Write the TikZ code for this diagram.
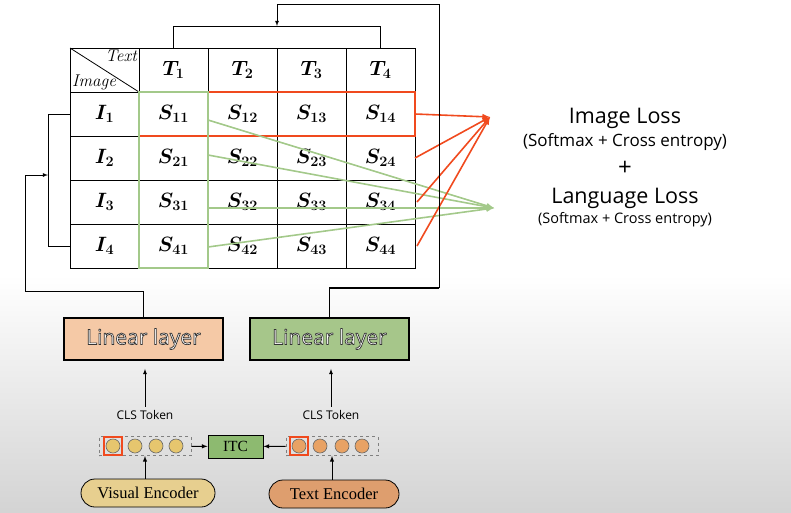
\documentclass[tikz,border=0pt]{standalone}
\usepackage{fontspec}
\usepackage{amsmath}
\usepackage{amssymb}
\usetikzlibrary{calc}
\usepackage{xcolor}

\newfontfamily\losssf{Open Sans}
\newfontfamily\encrm{Liberation Serif}
% white letters with a dark rim
\newcommand{\rimtext}[1]{\textcolor{white}{\special{pdf:literal direct 2 Tr 0.7 w 0.2 G}#1\special{pdf:literal direct 0 Tr}}}

\definecolor{lossred}{HTML}{F04A1E}
\definecolor{lossgreen}{HTML}{A3C98A}
\definecolor{peach}{HTML}{F5C9A6}
\definecolor{leaf}{HTML}{A6C68A}
\definecolor{itcgreen}{HTML}{8DBA70}
\definecolor{viscirc}{HTML}{E6C66E}
\definecolor{txtcirc}{HTML}{E8A264}
\definecolor{visenc}{HTML}{E7CF8F}
\definecolor{txtenc}{HTML}{DE9E6E}

\tikzset{
  cell/.style={draw, line width=0.8pt, minimum width=69pt, minimum height=44pt,
    inner sep=0pt, outer sep=0pt, font=\fontsize{22}{23}\selectfont\boldmath},
  linbox/.style={draw, line width=1.8pt, minimum width=159pt, minimum height=42pt,
    font=\losssf\fontsize{21}{22}\selectfont},
  tokbox/.style={draw=gray, dashed, line width=0.8pt, minimum width=92pt, minimum height=19pt},
  tokc/.style={circle, draw=gray!80!black, line width=0.6pt, minimum size=14pt, inner sep=0pt},
  clssq/.style={draw=lossred, line width=1.4pt, minimum size=18pt, inner sep=0pt},
  encbox/.style={draw, line width=0.8pt, rounded corners=14pt, minimum height=28pt,
    font=\encrm\fontsize{16.5}{17}\selectfont},
  redarr/.style={lossred, line width=1.6pt, -latex},
  grnarr/.style={lossgreen, line width=1.6pt, -latex},
}

\begin{document}
\begin{tikzpicture}[x=1pt, y=-1pt]
        \useasboundingbox (0,0) rectangle (791,512);
        \shade[top color=white, bottom color=black!17] (0,275) rectangle (791,512);

        % header
        \node[cell] (hd) at (104.5,70) {};
        \draw[line width=0.8pt] (hd.north west) -- (hd.south east);
        \node[anchor=north east, font=\fontsize{17}{18}\selectfont\itshape, inner sep=2pt] (txtlbl) at (hd.north east) {Text};
        \node[anchor=south west, font=\fontsize{17}{18}\selectfont\itshape, inner sep=2pt] (imglbl) at (hd.south west) {Image};
        \node[cell] (t1) at (173.5,70) {$T_1$};
        \node[cell] (t2) at (242.5,70) {$T_2$};
        \node[cell] (t3) at (311.5,70) {$T_3$};
        \node[cell] (t4) at (380.5,70) {$T_4$};
        % rows
        \node[cell] (i1) at (104.5,114) {$I_1$};
        \node[cell] (s11) at (173.5,114) {$S_{11}$};
        \node[cell] (s12) at (242.5,114) {$S_{12}$};
        \node[cell] (s13) at (311.5,114) {$S_{13}$};
        \node[cell] (s14) at (380.5,114) {$S_{14}$};
        \node[cell] (i2) at (104.5,158) {$I_2$};
        \node[cell] (s21) at (173.5,158) {$S_{21}$};
        \node[cell] (s22) at (242.5,158) {$S_{22}$};
        \node[cell] (s23) at (311.5,158) {$S_{23}$};
        \node[cell] (s24) at (380.5,158) {$S_{24}$};
        \node[cell] (i3) at (104.5,202) {$I_3$};
        \node[cell] (s31) at (173.5,202) {$S_{31}$};
        \node[cell] (s32) at (242.5,202) {$S_{32}$};
        \node[cell] (s33) at (311.5,202) {$S_{33}$};
        \node[cell] (s34) at (380.5,202) {$S_{34}$};
        \node[cell] (i4) at (104.5,246) {$I_4$};
        \node[cell] (s41) at (173.5,246) {$S_{41}$};
        \node[cell] (s42) at (242.5,246) {$S_{42}$};
        \node[cell] (s43) at (311.5,246) {$S_{43}$};
        \node[cell] (s44) at (380.5,246) {$S_{44}$};

        % highlights
        \draw[lossred, line width=1.6pt] (s11.north west) rectangle (s14.south east);
        \draw[lossgreen, line width=1.6pt] (s11.north west) rectangle (s41.south east);

        % losses
        \coordinate (imgtip) at (490,117);
        \coordinate (langtip) at (494,208);
        \node[font=\losssf\fontsize{21.5}{22}\selectfont] (imgloss) at (625,118) {Image Loss};
        \node[font=\losssf\fontsize{17}{18}\selectfont] (imgsub) at (625,142) {(Softmax + Cross entropy)};
        \node[font=\losssf\fontsize{24}{24}\selectfont] (plus) at (625,168) {+};
        \node[font=\losssf\fontsize{21.5}{22}\selectfont] (langloss) at (625,198) {Language Loss};
        \node[font=\losssf\fontsize{14.5}{15}\selectfont] (langsub) at (625,220) {(Softmax + Cross entropy)};

        \draw[grnarr] ([yshift=-6pt]s11.east) -- (langtip);
        \draw[grnarr] ([yshift=3pt]s21.east) -- (langtip);
        \draw[grnarr] ([yshift=-6pt]s31.east) -- (langtip);
        \draw[grnarr] ([yshift=-1pt]s41.east) -- (langtip);
        \draw[redarr] (s14.east) -- (imgtip);
        \draw[redarr] (s24.east) -- (imgtip);
        \draw[redarr] ([xshift=2pt]s34.east) -- (imgtip);
        \draw[redarr] ([xshift=2pt]s44.east) -- (imgtip);

        % brackets
        \coordinate (tophook) at (277,26);
        \coordinate (lefthook) at (48,175);
        \coordinate (rightbend) at (439,288);
        \draw[line width=0.8pt] (t1.north) -- ++(0,-22) -| (t4.north);
        \draw[line width=0.8pt] (i1.west) -- ++(-22,0) |- (i4.west);

        % linear layers
        \node[linbox, fill=peach] (lin1) at (143.5,339) {\rimtext{Linear layer}};
        \node[linbox, fill=leaf] (lin2) at (329.5,339) {\rimtext{Linear layer}};
        \draw[line width=0.8pt, -latex] (lin1.north) |- (25,291) |- (lefthook);
        \draw[line width=1.6pt] (lin2.north) |- (rightbend);
        \draw[line width=0.8pt, -latex] (rightbend) -- (439,4) -| (tophook);

        % tokens
        \node[font=\losssf\fontsize{12}{13}\selectfont] (cls1) at (145,415) {CLS Token};
        \node[font=\losssf\fontsize{12}{13}\selectfont] (cls2) at (331,415) {CLS Token};
        \draw[line width=0.8pt, -latex, shorten >=8pt] (cls1.north) -- (cls1.north |- lin1.south);
        \draw[line width=0.8pt, -latex, shorten >=8pt] (cls2.north) -- (cls2.north |- lin2.south);

        \node[tokbox] (vtok) at (145,446) {};
        \node[tokc, fill=viscirc] (v1) at (113,446) {};
        \node[tokc, fill=viscirc] (v2) at (135,446) {};
        \node[tokc, fill=viscirc] (v3) at (156,446) {};
        \node[tokc, fill=viscirc] (v4) at (176,446) {};
        \node[clssq] (vcls) at (v1) {};
        \node[tokbox] (ttok) at (332,446) {};
        \node[tokc, fill=txtcirc] (w1) at (299,446) {};
        \node[tokc, fill=txtcirc] (w2) at (320,446) {};
        \node[tokc, fill=txtcirc] (w3) at (342,446) {};
        \node[tokc, fill=txtcirc] (w4) at (362,446) {};
        \node[clssq] (tcls) at (w1) {};

        \node[draw, line width=0.8pt, fill=itcgreen, minimum width=55pt, minimum height=23pt,
          font=\encrm\fontsize{15.5}{16}\selectfont] (itc) at (235.5,446.5) {ITC};
        \draw[line width=1pt, -latex] (vtok) -- (itc);
        \draw[line width=1pt, -latex] (ttok) -- (itc);

        % encoders
        \node[encbox, fill=visenc, minimum width=134pt] (venc) at (148,493) {Visual Encoder};
        \node[encbox, fill=txtenc, minimum width=130pt] (tenc) at (334,494) {Text Encoder};
        \draw[line width=1pt, -latex] (venc.north -| vtok.south) -- (vtok.south);
        \draw[line width=1pt, -latex] (tenc.north -| ttok.south) -- (ttok.south);
      \end{tikzpicture}
\end{document}
